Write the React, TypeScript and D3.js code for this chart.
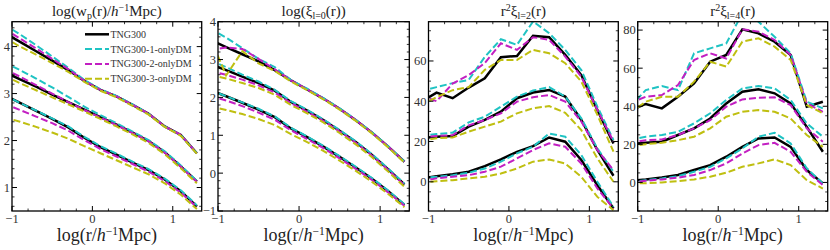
import React from "react";
import * as d3 from "d3";

// log(r) sample points
const logR = [-1.1, -0.9, -0.7, -0.5, -0.3, -0.1, 0.1, 0.3, 0.5, 0.7, 0.9, 1.1, 1.3];

const seriesNames = ["TNG300", "TNG300-1-onlyDM", "TNG300-2-onlyDM", "TNG300-3-onlyDM"];
const seriesColors = ["#000000", "#1fc3c3", "#c21fc2", "#bfbf10"];

// Panel 1: log wp  (each series: [upper, middle, lower] groups)
const wpTNG300 = [
  [4.3, 4.1, 3.9, 3.7, 3.5, 3.27, 3.08, 2.94, 2.76, 2.57, 2.3, 2.12, 1.73],
  [3.47, 3.3, 3.15, 2.98, 2.82, 2.66, 2.5, 2.34, 2.17, 1.99, 1.75, 1.45, 1.13],
  [2.97, 2.8, 2.63, 2.46, 2.28, 2.06, 1.86, 1.7, 1.53, 1.37, 1.17, 0.92, 0.6],
];
const wpDM1 = [
  [4.47, 4.26, 4.03, 3.79, 3.55, 3.29, 3.09, 2.95, 2.77, 2.57, 2.3, 2.12, 1.73],
  [3.67, 3.5, 3.32, 3.13, 2.93, 2.72, 2.54, 2.37, 2.19, 2.01, 1.77, 1.47, 1.14],
  [2.97, 2.8, 2.64, 2.47, 2.3, 2.08, 1.88, 1.72, 1.55, 1.39, 1.19, 0.94, 0.62],
];
const wpDM2 = [
  [4.38, 4.17, 3.96, 3.74, 3.52, 3.27, 3.08, 2.94, 2.76, 2.57, 2.3, 2.12, 1.73],
  [3.53, 3.36, 3.18, 3.0, 2.82, 2.65, 2.49, 2.33, 2.16, 1.98, 1.74, 1.44, 1.12],
  [2.79, 2.65, 2.51, 2.37, 2.21, 2.01, 1.82, 1.66, 1.5, 1.34, 1.14, 0.89, 0.58],
];
const wpDM3 = [
  [4.2, 4.0, 3.83, 3.65, 3.46, 3.25, 3.06, 2.92, 2.74, 2.55, 2.29, 2.1, 1.72],
  [3.38, 3.22, 3.07, 2.92, 2.77, 2.62, 2.46, 2.3, 2.13, 1.95, 1.71, 1.41, 1.09],
  [2.5, 2.4, 2.29, 2.17, 2.04, 1.88, 1.73, 1.58, 1.43, 1.28, 1.09, 0.85, 0.54],
];

// Panel 2: log xi0
const xi0TNG300 = [
  [3.52, 3.33, 3.14, 2.95, 2.72, 2.45, 2.21, 1.97, 1.7, 1.4, 1.07, 0.7, 0.3],
  [2.88, 2.72, 2.55, 2.38, 2.18, 1.88, 1.65, 1.4, 1.12, 0.82, 0.48, 0.1, -0.3],
  [2.2, 2.03, 1.86, 1.68, 1.48, 1.18, 0.95, 0.7, 0.43, 0.15, -0.15, -0.48, -0.84],
];
const xi0DM1 = [
  [3.82, 3.58, 3.3, 3.02, 2.8, 2.46, 2.23, 1.98, 1.71, 1.41, 1.08, 0.71, 0.31],
  [2.98, 2.8, 2.6, 2.42, 2.2, 1.9, 1.67, 1.42, 1.14, 0.84, 0.5, 0.12, -0.28],
  [2.2, 2.03, 1.87, 1.7, 1.5, 1.2, 0.97, 0.72, 0.45, 0.17, -0.13, -0.46, -0.82],
];
const xi0DM2 = [
  [3.25, 3.32, 3.28, 3.02, 2.74, 2.45, 2.21, 1.97, 1.7, 1.4, 1.07, 0.7, 0.3],
  [2.7, 2.6, 2.47, 2.32, 2.13, 1.85, 1.62, 1.38, 1.1, 0.8, 0.46, 0.08, -0.32],
  [2.05, 1.92, 1.77, 1.6, 1.41, 1.13, 0.9, 0.66, 0.39, 0.11, -0.18, -0.51, -0.86],
];
const xi0DM3 = [
  [3.6, 2.58, 3.22, 2.9, 2.7, 2.42, 2.19, 1.95, 1.68, 1.38, 1.05, 0.68, 0.28],
  [2.6, 2.5, 2.38, 2.25, 2.07, 1.8, 1.58, 1.34, 1.06, 0.76, 0.42, 0.04, -0.36],
  [1.77, 1.67, 1.56, 1.43, 1.27, 1.03, 0.82, 0.59, 0.33, 0.06, -0.23, -0.55, -0.9],
];

// Panel 3: r^2 xi2
const xi2TNG300 = [
  [39.5, 44.3, 41.5, 46.8, 51.4, 61.9, 62.5, 72.5, 71.8, 63, 53, 35.7, 19],
  [21.6, 22.4, 22.7, 27.4, 30.7, 34.8, 41.5, 44.3, 45.6, 42.3, 30.7, 15.8, 3],
  [1.5, 2.8, 3.8, 5, 7.8, 11.1, 14.9, 17.7, 22, 19.9, 10.8, -1.7, -13.3],
];
const xi2DM1 = [
  [45, 47, 49, 50.6, 62, 70.8, 68, 79.6, 73.8, 65.5, 55.5, 37.3, 20.7],
  [22.7, 23.7, 24.4, 29.5, 32.3, 37.3, 42.3, 45.3, 47, 42.3, 31.5, 16.6, 5],
  [1.9, 2.5, 3.3, 4.5, 6.6, 10, 14.1, 17.4, 24, 22.4, 13.3, 0, -12.4],
];
const xi2DM2 = [
  [43, 40, 48.8, 53, 59, 68.8, 65.5, 71.8, 70.5, 62.2, 52.2, 35.7, 20],
  [22.1, 22.7, 23.2, 28, 30.7, 34, 39.8, 42, 43.1, 39.8, 29.9, 15.8, 5.8],
  [0.3, 1.7, 2.5, 3.3, 5, 7.5, 11.6, 15.8, 19.1, 17.4, 9.1, -3.3, -13.3],
];
const xi2DM3 = [
  [38, 42, 45.5, 47, 55.6, 60.5, 60.5, 65.5, 63.8, 58.9, 49.8, 33.2, 15],
  [20.4, 21.6, 22, 24.9, 27.4, 29.9, 34, 36.5, 37.6, 34.3, 25.7, 11.6, 0],
  [-0.3, 0.3, 0.8, 1.7, 2.5, 4.1, 6.6, 10, 11.1, 9.1, 2.5, -7.5, -14.1],
];

// Panel 4: r^2 xi4
const xi4TNG300 = [
  [37.6, 41.2, 38.9, 45, 52, 63.4, 66.9, 80.4, 78.3, 73.9, 66.9, 39.8, 42.4],
  [20.2, 20.8, 21.4, 24.9, 28.4, 33.6, 41.5, 47.6, 48.9, 46.8, 41.5, 29.2, 16.1],
  [0.8, 1.6, 2.6, 3.9, 6.5, 9.1, 13.5, 18.7, 23.1, 23.6, 18.7, 6.5, -0.5],
];
const xi4DM1 = [
  [39.5, 48.5, 50.6, 48.5, 67.8, 70.4, 73, 88.8, 84.4, 76.5, 67.8, 42.4, 38.9],
  [22.2, 24, 24.9, 26.6, 31, 36.3, 43.3, 49.4, 50.6, 49.4, 43.3, 31, 24],
  [0.2, 1.2, 2.1, 3.3, 5.6, 8.2, 12.6, 17.9, 24, 26.1, 20.5, 7.4, -0.5],
];
const xi4DM2 = [
  [41.6, 45, 45.9, 51.1, 64.3, 67.8, 65.1, 80.4, 79.2, 74.8, 66.9, 41.5, 37.1],
  [20.6, 22.2, 22.6, 24.9, 28.4, 32.7, 39.8, 43.6, 44.5, 44.7, 40.6, 28.4, 21.4],
  [-0.1, 0.9, 1.6, 2.5, 3.9, 6.5, 10, 15.2, 19.6, 20.8, 16.1, 5.6, -1.4],
];
const xi4DM3 = [
  [36.4, 42.4, 45, 45, 52.9, 63.4, 60.8, 73.9, 75.7, 71.3, 64.3, 40.6, 36.3],
  [19.1, 20.1, 20.8, 22.2, 24, 28.4, 34.5, 37.1, 38, 37.1, 33.6, 24.9, 18.7],
  [-0.6, -0.4, 0, 0.7, 1.6, 3, 5.1, 8.2, 10, 12.1, 9.1, 1.2, -3.2],
];

const xMajorTicks = [-1, 0, 1];
const FONT = "'Liberation Serif', 'DejaVu Serif', serif";

const TOP = 21.7;
const BOTTOM = 211;

type PanelDef = {
  left: number;
  right: number;
  yDomain: [number, number];
  yTicks: number[];
  yMinor: number;
  series: number[][][];
  title: React.ReactNode;
  legend?: boolean;
};

const panels: PanelDef[] = [
  {
    left: 12, right: 201.7, yDomain: [0.5, 4.53], yTicks: [1, 2, 3, 4], yMinor: 0.2,
    series: [wpTNG300, wpDM1, wpDM2, wpDM3], legend: true,
    title: (
      <>
        log(w<tspan dy={3} fontSize={10}>p</tspan>
        <tspan dy={-3}>(r)/</tspan>
        <tspan fontStyle="italic">h</tspan>
        <tspan dy={-5} fontSize={10}>−1</tspan>
        <tspan dy={5}>Mpc)</tspan>
      </>
    ),
  },
  {
    left: 218, right: 409.3, yDomain: [-1, 4], yTicks: [-1, 0, 1, 2, 3, 4], yMinor: 0.2,
    series: [xi0TNG300, xi0DM1, xi0DM2, xi0DM3],
    title: (
      <>
        log(ξ<tspan dy={3} fontSize={10}>l=0</tspan>
        <tspan dy={-3}>(r))</tspan>
      </>
    ),
  },
  {
    left: 428.5, right: 618.3, yDomain: [-14.5, 79.5], yTicks: [0, 20, 40, 60], yMinor: 5,
    series: [xi2TNG300, xi2DM1, xi2DM2, xi2DM3],
    title: (
      <>
        r<tspan dy={-5} fontSize={10}>2</tspan>
        <tspan dy={5}>ξ</tspan>
        <tspan dy={3} fontSize={10}>l=2</tspan>
        <tspan dy={-3}>(r)</tspan>
      </>
    ),
  },
  {
    left: 637.7, right: 827.7, yDomain: [-15, 84.4], yTicks: [0, 20, 40, 60, 80], yMinor: 5,
    series: [xi4TNG300, xi4DM1, xi4DM2, xi4DM3],
    title: (
      <>
        r<tspan dy={-5} fontSize={10}>2</tspan>
        <tspan dy={5}>ξ</tspan>
        <tspan dy={3} fontSize={10}>l=4</tspan>
        <tspan dy={-3}>(r)</tspan>
      </>
    ),
  },
];

const fmt = (v: number) => (v < 0 ? "−" + Math.abs(v) : String(v));

function Panel({ p, idx }: { p: PanelDef; idx: number }) {
  const x = d3.scaleLinear().domain([-1, 1.36]).range([p.left, p.right]);
  const y = d3.scaleLinear().domain(p.yDomain).range([BOTTOM, TOP]);
  const clipId = `clip${idx}`;
  const xMinor = d3.range(-1, 1.36, 0.2).map((v) => Math.round(v * 10) / 10).filter((v) => !xMajorTicks.includes(v));
  const yStart = Math.ceil(p.yDomain[0] / p.yMinor) * p.yMinor;
  const yMinor = d3
    .range(yStart, p.yDomain[1] + 1e-9, p.yMinor)
    .map((v) => Math.round(v * 100) / 100)
    .filter((v) => !p.yTicks.includes(v));
  const line = d3
    .line<number>()
    .x((_, i) => x(logR[i]))
    .y((d) => y(d));
  const cx = (p.left + p.right) / 2;
  const MAJ = 5;
  const MIN = 2.5;
  return (
    <g>
      <defs>
        <clipPath id={clipId}>
          <rect x={p.left} y={TOP} width={p.right - p.left} height={BOTTOM - TOP} />
        </clipPath>
      </defs>
      <g clipPath={`url(#${clipId})`}>
        {p.series.map((groups, si) =>
          groups.map((vals, gi) => (
            <path
              key={`${si}-${gi}`}
              d={line(vals) || ""}
              fill="none"
              stroke={seriesColors[si]}
              strokeWidth={si === 0 ? 2.5 : 2}
              strokeDasharray={si === 0 ? undefined : "7,3"}
            />
          ))
        )}
      </g>
      {xMajorTicks.map((t) => (
        <g key={`xm${t}`}>
          <line x1={x(t)} x2={x(t)} y1={BOTTOM} y2={BOTTOM - MAJ} stroke="#000" strokeWidth={1} />
          <line x1={x(t)} x2={x(t)} y1={TOP} y2={TOP + MAJ} stroke="#000" strokeWidth={1} />
          <text x={x(t)} y={BOTTOM + 12} textAnchor="middle" fontSize={12.5} fill="#333" fontFamily={FONT}>
            {fmt(t)}
          </text>
        </g>
      ))}
      {xMinor.map((t) => (
        <g key={`xn${t}`}>
          <line x1={x(t)} x2={x(t)} y1={BOTTOM} y2={BOTTOM - MIN} stroke="#000" strokeWidth={0.8} />
          <line x1={x(t)} x2={x(t)} y1={TOP} y2={TOP + MIN} stroke="#000" strokeWidth={0.8} />
        </g>
      ))}
      {p.yTicks.map((t) => (
        <g key={`ym${t}`}>
          <line x1={p.left} x2={p.left + MAJ} y1={y(t)} y2={y(t)} stroke="#000" strokeWidth={1} />
          <line x1={p.right} x2={p.right - MAJ} y1={y(t)} y2={y(t)} stroke="#000" strokeWidth={1} />
          <text x={p.left - 2} y={y(t)} dy="0.35em" textAnchor="end" fontSize={12.5} fill="#333" fontFamily={FONT}>
            {fmt(t)}
          </text>
        </g>
      ))}
      {yMinor.map((t) => (
        <g key={`yn${t}`}>
          <line x1={p.left} x2={p.left + MIN} y1={y(t)} y2={y(t)} stroke="#000" strokeWidth={0.8} />
          <line x1={p.right} x2={p.right - MIN} y1={y(t)} y2={y(t)} stroke="#000" strokeWidth={0.8} />
        </g>
      ))}
      <rect x={p.left} y={TOP} width={p.right - p.left} height={BOTTOM - TOP} fill="none" stroke="#000" strokeWidth={1.3} />
      <text x={cx} y={16} textAnchor="middle" fontSize={15} fill="#222" fontFamily={FONT}>
        {p.title}
      </text>
      <text x={cx} y={241} textAnchor="middle" fontSize={18} fill="#222" fontFamily={FONT}>
        log(r/<tspan fontStyle="italic">h</tspan>
        <tspan dy={-6} fontSize={11.5}>−1</tspan>
        <tspan dy={6}>Mpc)</tspan>
      </text>
      {p.legend && (
        <g>
          {seriesNames.map((n, i) => {
            const ly = 34.3 + i * 14.8;
            return (
              <g key={n}>
                <line
                  x1={85}
                  x2={109}
                  y1={ly}
                  y2={ly}
                  stroke={seriesColors[i]}
                  strokeWidth={i === 0 ? 2.5 : 2}
                  strokeDasharray={i === 0 ? undefined : "7,3"}
                />
                <text x={110.5} y={ly} dy="0.35em" fontSize={10} fill="#333" fontFamily={FONT}>
                  {n}
                </text>
              </g>
            );
          })}
        </g>
      )}
    </g>
  );
}

export default function App() {
  return (
    <svg
      width={830}
      height={250}
      style={{ position: "absolute", left: 0, top: 0, background: "#fff" }}
      fontFamily={FONT}
    >
      <rect x={0} y={0} width={830} height={250} fill="#fff" />
      {panels.map((p, i) => (
        <Panel key={i} p={p} idx={i} />
      ))}
    </svg>
  );
}
